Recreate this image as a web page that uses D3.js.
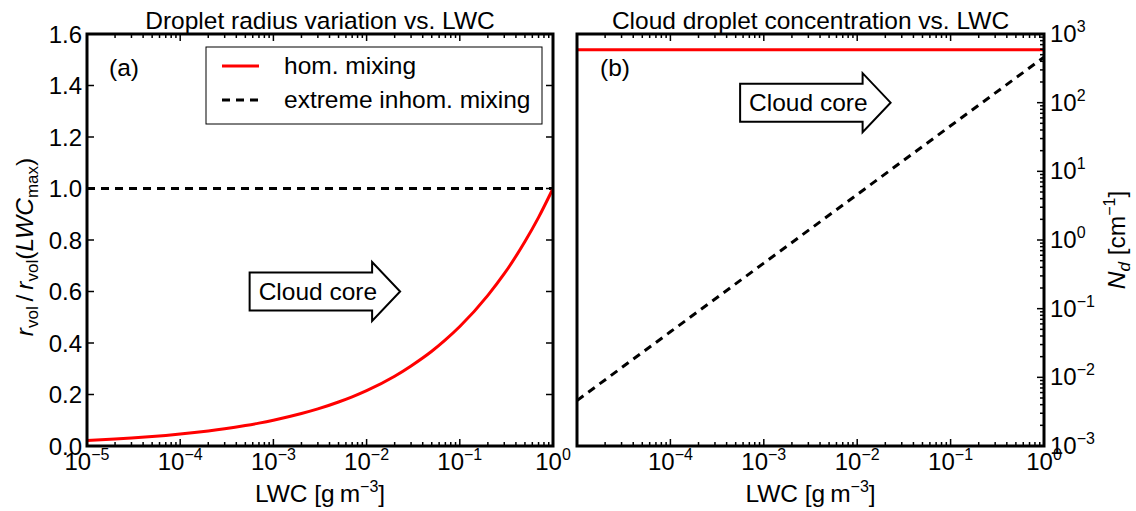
<!DOCTYPE html>
<html>
<head>
<meta charset="utf-8">
<script src="https://cdn.jsdelivr.net/npm/d3@7"></script>
<style>
  html, body { margin: 0; padding: 0; background: #fff; }
  svg { display: block; font-family: "Liberation Sans", Arial, Helvetica, sans-serif; }
</style>
</head>
<body>
<svg id="chart" width="1136" height="511"></svg>
<script>
// Liquid water content grid (g m^-3) for the radius curve
const lwc = [1e-5, 2e-5, 3e-5, 5e-5, 7e-5, 1e-4, 2e-4, 3e-4, 5e-4, 7e-4,
             1e-3, 2e-3, 3e-3, 5e-3, 7e-3, 1e-2, 2e-2, 3e-2, 5e-2, 7e-2,
             1e-1, 2e-1, 3e-1, 5e-1, 7e-1, 1];
// r_vol / r_vol(LWC_max), homogeneous mixing
const radiusHom = [0.0215, 0.0271, 0.0311, 0.0368, 0.0412, 0.0464, 0.0585, 0.0669, 0.0794, 0.0888,
                   0.100, 0.126, 0.144, 0.171, 0.191, 0.215, 0.271, 0.311, 0.368, 0.412,
                   0.464, 0.585, 0.669, 0.794, 0.888, 1.0];
// extreme inhomogeneous mixing keeps the radius
const lwcEnds = [1e-5, 1];
const radiusInhom = [1.0, 1.0];

// droplet concentration N_d (cm^-1)
const lwcDecades = [1e-5, 1e-4, 1e-3, 1e-2, 1e-1, 1];
const ndHom = [590, 590];
const ndInhom = [0.0046, 0.046, 0.46, 4.6, 46, 460];

// tick labels
const radiusTicks = [0, 0.2, 0.4, 0.6, 0.8, 1.0, 1.2, 1.4, 1.6];
const lwcTickExps = [-5, -4, -3, -2, -1, 0];
const ndTickExps = [-3, -2, -1, 0, 1, 2, 3];

const series = ["hom. mixing", "extreme inhom. mixing"];
const colors = { hom: "#ff0000", inhom: "#000000" };

const svg = d3.select("#chart");
const FONT = 24.5, TICKFONT = 24, SUPFONT = 16, SUBFONT = 17;

const plotTop = 34, plotBottom = 446;
const xA = d3.scaleLog().domain([1e-5, 1]).range([87, 553]);
const xB = d3.scaleLog().domain([1e-5, 1]).range([577, 1044]);
const yA = d3.scaleLinear().domain([0, 1.6]).range([plotBottom, plotTop]);
const yB = d3.scaleLog().domain([1e-3, 1e3]).range([plotBottom, plotTop]);

const minus = e => (e < 0 ? "\u2212" + Math.abs(e) : String(e));

function powerLabel(g, x, y, exp, anchor) {
  const t = g.append("text").attr("x", x).attr("y", y)
    .attr("text-anchor", anchor).attr("font-size", TICKFONT).attr("fill", "#000");
  t.append("tspan").text("10");
  t.append("tspan").attr("dy", -10).attr("font-size", SUPFONT).text(minus(exp));
  return t;
}

function lwcMinorTicks() {
  const out = [];
  for (let e = -5; e < 0; e++) for (let k = 2; k <= 9; k++) out.push(k * Math.pow(10, e));
  return out;
}
function ndMinorTicks() {
  const out = [];
  for (let e = -3; e < 3; e++) for (let k = 2; k <= 9; k++) out.push(k * Math.pow(10, e));
  return out;
}

const MAJ = 7, MIN = 4;

function xTicks(g, x) {
  const majors = lwcTickExps.map(e => Math.pow(10, e));
  const minors = lwcMinorTicks();
  [[majors, MAJ], [minors, MIN]].forEach(([vals, len]) => {
    vals.forEach(v => {
      const px = x(v);
      g.append("line").attr("x1", px).attr("x2", px).attr("y1", plotBottom).attr("y2", plotBottom - len)
        .attr("stroke", "#000").attr("stroke-width", 1.5);
      g.append("line").attr("x1", px).attr("x2", px).attr("y1", plotTop).attr("y2", plotTop + len)
        .attr("stroke", "#000").attr("stroke-width", 1.5);
    });
  });
}

function frame(g, x0, x1) {
  g.append("rect").attr("x", x0).attr("y", plotTop).attr("width", x1 - x0).attr("height", plotBottom - plotTop)
    .attr("fill", "none").attr("stroke", "#000").attr("stroke-width", 3);
}

// ---------- panel (a) ----------
const gA = svg.append("g");
svg.append("clipPath").attr("id", "clipA").append("rect")
  .attr("x", xA.range()[0]).attr("y", plotTop).attr("width", xA.range()[1] - xA.range()[0]).attr("height", plotBottom - plotTop);

const lineA = d3.line().x(d => xA(d[0])).y(d => yA(d[1])).curve(d3.curveMonotoneX);
const plotA = gA.append("g").attr("clip-path", "url(#clipA)");
plotA.append("path").datum(lwcEnds.map((v, i) => [v, radiusInhom[i]]))
  .attr("d", lineA).attr("fill", "none").attr("stroke", colors.inhom)
  .attr("stroke-width", 3).attr("stroke-dasharray", "8,6");
plotA.append("path").datum(lwc.map((v, i) => [v, radiusHom[i]]))
  .attr("d", lineA).attr("fill", "none").attr("stroke", colors.hom).attr("stroke-width", 3);

xTicks(gA, xA);
radiusTicks.forEach(v => {
  const py = yA(v);
  gA.append("line").attr("x1", xA.range()[0]).attr("x2", xA.range()[0] + MAJ).attr("y1", py).attr("y2", py)
    .attr("stroke", "#000").attr("stroke-width", 1.5);
  gA.append("line").attr("x1", xA.range()[1]).attr("x2", xA.range()[1] - MAJ).attr("y1", py).attr("y2", py)
    .attr("stroke", "#000").attr("stroke-width", 1.5);
  gA.append("text").attr("x", 82).attr("y", py).attr("dy", "0.36em")
    .attr("text-anchor", "end").attr("font-size", TICKFONT).text(v.toFixed(1));
});
lwcTickExps.forEach(e => powerLabel(gA, xA(Math.pow(10, e)), 470, e, "middle"));
frame(gA, xA.range()[0], xA.range()[1]);

// ---------- panel (b) ----------
const gB = svg.append("g");
svg.append("clipPath").attr("id", "clipB").append("rect")
  .attr("x", xB.range()[0]).attr("y", plotTop).attr("width", xB.range()[1] - xB.range()[0]).attr("height", plotBottom - plotTop);
const lineB = d3.line().x(d => xB(d[0])).y(d => yB(d[1]));
const plotB = gB.append("g").attr("clip-path", "url(#clipB)");
plotB.append("path").datum(lwcDecades.map((v, i) => [v, ndInhom[i]]))
  .attr("d", lineB).attr("fill", "none").attr("stroke", colors.inhom)
  .attr("stroke-width", 3).attr("stroke-dasharray", "8,6");
plotB.append("path").datum(lwcEnds.map((v, i) => [v, ndHom[i]]))
  .attr("d", lineB).attr("fill", "none").attr("stroke", colors.hom).attr("stroke-width", 3);

xTicks(gB, xB);
const xr = xB.range()[1];
ndTickExps.forEach(e => {
  const py = yB(Math.pow(10, e));
  gB.append("line").attr("x1", xr).attr("x2", xr - MAJ).attr("y1", py).attr("y2", py)
    .attr("stroke", "#000").attr("stroke-width", 1.5);
  powerLabel(gB, 1050, py + 8, e, "start");
});
ndMinorTicks().forEach(v => {
  const py = yB(v);
  gB.append("line").attr("x1", xr).attr("x2", xr - MIN).attr("y1", py).attr("y2", py)
    .attr("stroke", "#000").attr("stroke-width", 1.5);
});
lwcTickExps.filter(e => e > -5).forEach(e => powerLabel(gB, xB(Math.pow(10, e)), 470, e, "middle"));
frame(gB, xB.range()[0], xB.range()[1]);

// ---------- titles and axis labels ----------
svg.append("text").attr("x", (xA.range()[0] + xA.range()[1]) / 2).attr("y", 29)
  .attr("text-anchor", "middle").attr("font-size", FONT).text("Droplet radius variation vs. LWC");
svg.append("text").attr("x", (xB.range()[0] + xB.range()[1]) / 2).attr("y", 29)
  .attr("text-anchor", "middle").attr("font-size", FONT).text("Cloud droplet concentration vs. LWC");

function lwcLabel(cx) {
  const t = svg.append("text").attr("x", cx).attr("y", 502).attr("text-anchor", "middle").attr("font-size", FONT);
  t.append("tspan").text("LWC [g\u2009m");
  t.append("tspan").attr("dy", -10).attr("font-size", SUPFONT).text("\u22123");
  t.append("tspan").attr("dy", 10).text("]");
}
lwcLabel((xA.range()[0] + xA.range()[1]) / 2);
lwcLabel((xB.range()[0] + xB.range()[1]) / 2);

// r_vol / r_vol(LWC_max)
const yl = svg.append("text").attr("transform", "translate(33,247) rotate(-90)")
  .attr("text-anchor", "middle").attr("font-size", FONT);
yl.append("tspan").attr("font-style", "italic").text("r");
yl.append("tspan").attr("dy", 5).attr("font-size", SUBFONT).text("vol");
yl.append("tspan").attr("dy", -5).text("\u2009/\u2009");
yl.append("tspan").attr("font-style", "italic").text("r");
yl.append("tspan").attr("dy", 5).attr("font-size", SUBFONT).text("vol");
yl.append("tspan").attr("dy", -5).text("(");
yl.append("tspan").attr("font-style", "italic").text("LWC");
yl.append("tspan").attr("dy", 5).attr("font-size", SUBFONT).text("max");
yl.append("tspan").attr("dy", -5).text(")");

// N_d [cm^-1]
const yr = svg.append("text").attr("transform", "translate(1125,240) rotate(-90)")
  .attr("text-anchor", "middle").attr("font-size", FONT);
yr.append("tspan").attr("font-style", "italic").text("N");
yr.append("tspan").attr("dy", 5).attr("font-size", SUBFONT).attr("font-style", "italic").text("d");
yr.append("tspan").attr("dy", -5).text(" [cm");
yr.append("tspan").attr("dy", -10).attr("font-size", SUPFONT).text("\u22121");
yr.append("tspan").attr("dy", 10).text("]");

// panel letters
svg.append("text").attr("x", 109).attr("y", 76).attr("font-size", FONT).text("(a)");
svg.append("text").attr("x", 600).attr("y", 76).attr("font-size", FONT).text("(b)");

// ---------- legend ----------
const leg = svg.append("g");
leg.append("rect").attr("x", 206).attr("y", 47).attr("width", 336).attr("height", 77)
  .attr("fill", "#fff").attr("stroke", "#000").attr("stroke-width", 1);
[["hom", 66], ["inhom", 100]].forEach(([k, y], i) => {
  const l = leg.append("line").attr("x1", 222).attr("x2", 259).attr("y1", y).attr("y2", y)
    .attr("stroke", colors[k]).attr("stroke-width", 3);
  if (k === "inhom") l.attr("stroke-dasharray", "8,6");
  leg.append("text").attr("x", 284).attr("y", y + 8).attr("font-size", FONT).text(series[i]);
});

// ---------- "Cloud core" arrows ----------
function cloudCore(cx, cy) {
  const g = svg.append("g");
  const path = g.append("path").attr("fill", "#fff").attr("stroke", "#000").attr("stroke-width", 2);
  const t = g.append("text").attr("x", cx).attr("y", cy).attr("dy", "0.36em")
    .attr("text-anchor", "middle").attr("font-size", FONT).text("Cloud core");
  const b = t.node().getBBox();
  const x0 = b.x - 9, x1 = b.x + b.width - 5, hb = 19, hh = 29.5, tip = x1 + 28;
  const p = d3.path();
  p.moveTo(x0, cy - hb); p.lineTo(x1, cy - hb); p.lineTo(x1, cy - hh); p.lineTo(tip, cy);
  p.lineTo(x1, cy + hh); p.lineTo(x1, cy + hb); p.lineTo(x0, cy + hb); p.closePath();
  path.attr("d", p.toString());
}
cloudCore(xA(3e-3), yA(0.6));
cloudCore(xB(3e-3), yB(100));
</script>
</body>
</html>
